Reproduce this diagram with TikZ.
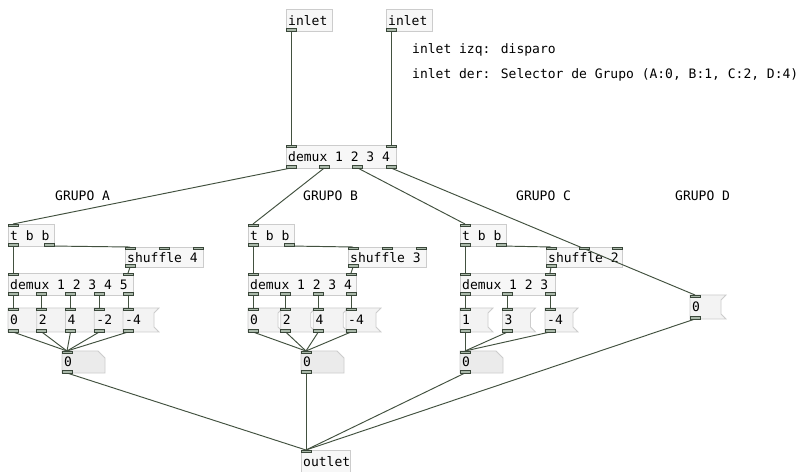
\documentclass[tikz,border=0pt]{standalone}
\usepackage{fontspec}
\newfontfamily\pdfont{DejaVu Sans Mono}
\definecolor{cordc}{HTML}{42513F}
\definecolor{boxbd}{HTML}{CCCCCC}
\definecolor{boxfill}{HTML}{F7F7F7}
\definecolor{msgfill}{HTML}{F3F3F3}
\definecolor{nbfill}{HTML}{EBEBEB}
\definecolor{tabbd}{HTML}{3A473A}
\definecolor{tabfill}{HTML}{A9B8A9}
\tikzset{
 objbox/.style={draw=boxbd, fill=boxfill, line width=0.8bp, anchor=north west, inner sep=0pt, rectangle},
 msgbox/.style={draw=boxbd, fill=msgfill, line width=0.8bp},
 nbox/.style={draw=boxbd, fill=nbfill, line width=0.8bp},
 pdtxt/.style={font={\pdfont\fontsize{13bp}{15bp}\selectfont}, anchor=west, inner sep=0pt, text=black},
 cord/.style={draw=cordc, line width=0.95bp},
 tab/.style={draw=tabbd, fill=tabfill, line width=0.8bp},
}
\newcommand\pdobj[6]{%
 \node[objbox, minimum width=#4bp, minimum height=#5bp] (#1) at (#2,#3) {};
 \node[pdtxt] (#1-t) at ([xshift=2bp]#1.west) {#6};}
\newcommand\pdmsg[5]{%
 \path[msgbox] (#2,#3) -- ++(#4,0) -- ++(-5,5) -- ++(0,14) -- ++(5,5) -- ++(-#4,0) -- cycle;
 \node[pdtxt] (#1) at (#2+2,#3+12) {#5};
 \coordinate (#1-i) at (#2+5,#3);
 \coordinate (#1-o) at (#2+5,#3+24);}
\newcommand\pdnum[4]{%
 \path[nbox] (#2,#3) -- ++(36,0) -- ++(7,7) -- ++(0,15) -- ++(-43,0) -- cycle;
 \node[pdtxt] (#1) at (#2+2,#3+11) {#4};
 \coordinate (#1-i) at (#2+5,#3);
 \coordinate (#1-o) at (#2+5,#3+22);}
\newcommand\pdin[1]{\draw[tab] ([shift={(-5,0)}]#1) rectangle ([shift={(5,2.5)}]#1);}
\newcommand\pdout[1]{\draw[tab] ([shift={(-5,-2.5)}]#1) rectangle ([shift={(5,0)}]#1);}
\begin{document}
\begin{tikzpicture}[x=1bp,y=-1bp]
\fill[white] (0,0) rectangle (803,472);
\useasboundingbox (0,0) rectangle (803,472);

% ---------- top ----------
\pdobj{in1}{286}{9}{46}{22}{inlet}
\pdobj{in2}{386}{9}{46}{22}{inlet}
\coordinate (in1-o) at (291,31);
\coordinate (in2-o) at (391,31);
\node[pdtxt] (c1) at (412,50) {inlet izq: disparo};
\node[pdtxt] (c2) at (412,75) {inlet der: Selector de Grupo (A:0, B:1, C:2, D:4)};

\pdobj{dmx}{286}{145}{110}{23}{demux 1 2 3 4}
\coordinate (dmx-i0) at (291,145);
\coordinate (dmx-i1) at (391,145);
\coordinate (dmx-o0) at (291,168);
\coordinate (dmx-o1) at (324.3,168);
\coordinate (dmx-o2) at (357.7,168);
\coordinate (dmx-o3) at (391,168);

\node[pdtxt] (gA) at (55,196) {GRUPO A};
\node[pdtxt] (gB) at (303,196) {GRUPO B};
\node[pdtxt] (gC) at (516,196) {GRUPO C};
\node[pdtxt] (gD) at (675,196) {GRUPO D};

% ---------- group A ----------
\pdobj{tbA}{8}{224}{46}{22}{t b b}
\coordinate (tbA-i) at (13,224);
\coordinate (tbA-o0) at (13,246);
\coordinate (tbA-o1) at (49,246);
\pdobj{shA}{125}{247}{78}{20}{shuffle 4}
\coordinate (shA-i0) at (130,247);
\coordinate (shA-i1) at (164,247);
\coordinate (shA-i2) at (198,247);
\coordinate (shA-o) at (130,267);
\pdobj{dmA}{8}{273}{125}{22}{demux 1 2 3 4 5}
\coordinate (dmA-i0) at (13,273);
\coordinate (dmA-i1) at (128,273);
\coordinate (dmA-o1) at (13,295);
\coordinate (dmA-o2) at (41.75,295);
\coordinate (dmA-o3) at (70.5,295);
\coordinate (dmA-o4) at (99.25,295);
\coordinate (dmA-o5) at (128,295);
\pdmsg{mA1}{8}{308}{36}{0}
\pdmsg{mA2}{36.75}{308}{36}{2}
\pdmsg{mA3}{65.5}{308}{36}{4}
\pdmsg{mA4}{94.25}{308}{36}{-2}
\pdmsg{mA5}{123}{308}{36}{-4}
\pdnum{nbA}{62}{351}{0}

% ---------- group B ----------
\pdobj{tbB}{248}{224}{46}{22}{t b b}
\coordinate (tbB-i) at (253,224);
\coordinate (tbB-o0) at (253,246);
\coordinate (tbB-o1) at (289,246);
\pdobj{shB}{348}{247}{78}{20}{shuffle 3}
\coordinate (shB-i0) at (353,247);
\coordinate (shB-i1) at (387,247);
\coordinate (shB-i2) at (421,247);
\coordinate (shB-o) at (353,267);
\pdobj{dmB}{248}{273}{108}{22}{demux 1 2 3 4}
\coordinate (dmB-i0) at (253,273);
\coordinate (dmB-i1) at (351,273);
\coordinate (dmB-o1) at (253,295);
\coordinate (dmB-o2) at (285.7,295);
\coordinate (dmB-o3) at (318.3,295);
\coordinate (dmB-o4) at (351,295);
\pdmsg{mB1}{248}{308}{35}{0}
\pdmsg{mB2}{280.7}{308}{35}{2}
\pdmsg{mB3}{313.3}{308}{35}{4}
\pdmsg{mB4}{346}{308}{35}{-4}
\pdnum{nbB}{301}{351}{0}

% ---------- group C ----------
\pdobj{tbC}{460}{224}{46}{22}{t b b}
\coordinate (tbC-i) at (465,224);
\coordinate (tbC-o0) at (465,246);
\coordinate (tbC-o1) at (501,246);
\pdobj{shC}{546}{247}{76}{20}{shuffle 2}
\coordinate (shC-i0) at (551,247);
\coordinate (shC-i1) at (584,247);
\coordinate (shC-i2) at (617,247);
\coordinate (shC-o) at (551,267);
\pdobj{dmC}{460}{273}{95}{22}{demux 1 2 3}
\coordinate (dmC-i0) at (465,273);
\coordinate (dmC-i1) at (550,273);
\coordinate (dmC-o1) at (465,295);
\coordinate (dmC-o2) at (507.5,295);
\coordinate (dmC-o3) at (550,295);
\pdmsg{mC1}{460}{308}{33}{1}
\pdmsg{mC2}{502.5}{308}{33}{3}
\pdmsg{mC3}{545}{308}{33}{-4}
\pdnum{nbC}{460}{351}{0}

% ---------- group D ----------
\pdmsg{mD}{690}{295}{36}{0}

% ---------- outlet ----------
\pdobj{out}{301}{450}{49}{22}{outlet}
\coordinate (out-i) at (306,450);

% ---------- cords ----------
\draw[cord] (in1-o) -- (dmx-i0);
\draw[cord] (in2-o) -- (dmx-i1);
\draw[cord] (dmx-o0) -- (tbA-i);
\draw[cord] (dmx-o1) -- (tbB-i);
\draw[cord] (dmx-o2) -- (tbC-i);
\draw[cord] (dmx-o3) -- (mD-i);
\foreach \g in {A,B,C}{
 \draw[cord] (tb\g-o0) -- (dm\g-i0);
 \draw[cord] (tb\g-o1) -- (sh\g-i0);
 \draw[cord] (sh\g-o) -- (dm\g-i1);
 \draw[cord] (nb\g-o) -- (out-i);
}
\foreach \k in {1,...,5}{
 \draw[cord] (dmA-o\k) -- (mA\k-i);
 \draw[cord] (mA\k-o) -- (nbA-i);
}
\foreach \k in {1,...,4}{
 \draw[cord] (dmB-o\k) -- (mB\k-i);
 \draw[cord] (mB\k-o) -- (nbB-i);
}
\foreach \k in {1,...,3}{
 \draw[cord] (dmC-o\k) -- (mC\k-i);
 \draw[cord] (mC\k-o) -- (nbC-i);
}
\draw[cord] (mD-o) -- (out-i);

% ---------- tabs ----------
\pdout{in1-o} \pdout{in2-o}
\pdin{dmx-i0} \pdin{dmx-i1}
\foreach \k in {0,...,3}{\pdout{dmx-o\k}}
\foreach \g in {A,B,C}{
 \pdin{tb\g-i} \pdout{tb\g-o0} \pdout{tb\g-o1}
 \pdin{sh\g-i0} \pdin{sh\g-i1} \pdin{sh\g-i2} \pdout{sh\g-o}
 \pdin{dm\g-i0} \pdin{dm\g-i1}
 \pdin{nb\g-i} \pdout{nb\g-o}
}
\foreach \k in {1,...,5}{\pdout{dmA-o\k} \pdin{mA\k-i} \pdout{mA\k-o}}
\foreach \k in {1,...,4}{\pdout{dmB-o\k} \pdin{mB\k-i} \pdout{mB\k-o}}
\foreach \k in {1,...,3}{\pdout{dmC-o\k} \pdin{mC\k-i} \pdout{mC\k-o}}
\pdin{mD-i} \pdout{mD-o}
\pdin{out-i}
\end{tikzpicture}
\end{document}
